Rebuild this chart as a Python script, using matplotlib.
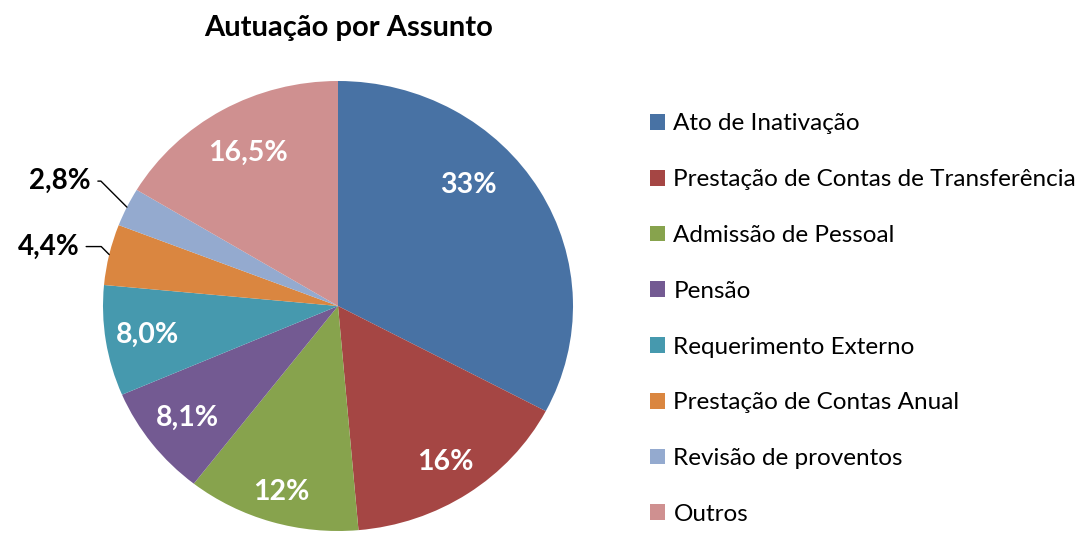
import numpy as np
import matplotlib
matplotlib.use('Agg')
from matplotlib import pyplot as plt

plt.rcParams['font.family'] = ['Lato', 'DejaVu Sans']

# dados do grafico
categorias = ['Ato de Inativação', 'Prestação de Contas de Transferência',
              'Admissão de Pessoal', 'Pensão', 'Requerimento Externo',
              'Prestação de Contas Anual', 'Revisão de proventos', 'Outros']
valores = [33, 16, 12, 8.1, 8.0, 4.4, 2.8, 16.5]
rotulos = ['33%', '16%', '12%', '8,1%', '8,0%', '4,4%', '2,8%', '16,5%']
cores = ['#4872A4', '#A54644', '#87A34D', '#735A92', '#4699AE',
         '#DA8640', '#94AACF', '#CF9090']

# posicao dos rotulos: raio e desvio de angulo (graus)
raio_rot = [0.77, 0.83, 0.86, 0.81, 0.82, 0, 0, 0.78]
desvio_rot = [13, 0, 0, 0, 0, 0, 0, 0]
fora = {5: (-30, 8), 6: (-36, 26)}

fig = plt.figure(figsize=(10.9, 5.4), dpi=100)
fig.text(0.32, 0.948, 'Autuação por Assunto', ha='center', va='center',
         fontsize=21, fontweight='bold')

ax = fig.add_axes([103/1090, 9/540, 470/1090, 450/540])
wedges, _ = ax.pie(valores, colors=cores, startangle=90, counterclock=False,
                   radius=1, wedgeprops=dict(linewidth=0))
ax.set_aspect('auto')
ax.set_xlim(-1, 1)
ax.set_ylim(-1, 1)

for i, w in enumerate(wedges):
    meio = (w.theta1 + w.theta2) / 2
    if i in fora:
        ang = np.deg2rad(meio)
        x, y = np.cos(ang), np.sin(ang)
        dx, dy = fora[i]
        ax.annotate(rotulos[i], xy=(x, y), xytext=(dx, dy),
                    textcoords='offset pixels', ha='right', va='center',
                    fontsize=20, fontweight='bold', color='black',
                    arrowprops=dict(arrowstyle='-', color='black', lw=1,
                                    shrinkA=3, shrinkB=0,
                                    connectionstyle='angle,angleA=0,angleB=-45,rad=0'))
    else:
        ang = np.deg2rad(meio + desvio_rot[i])
        r = raio_rot[i]
        ax.text(r * np.cos(ang), r * np.sin(ang), rotulos[i], ha='center',
                va='center', fontsize=20.5, fontweight='bold', color='white')

leg = fig.legend(wedges, categorias, loc='center left',
                 bbox_to_anchor=(628/1090, 0.409), frameon=False,
                 fontsize=17.5, handlelength=0.62, handleheight=0.62,
                 handletextpad=0.35, labelspacing=1.43)

fig.savefig('out.png', dpi=100)
